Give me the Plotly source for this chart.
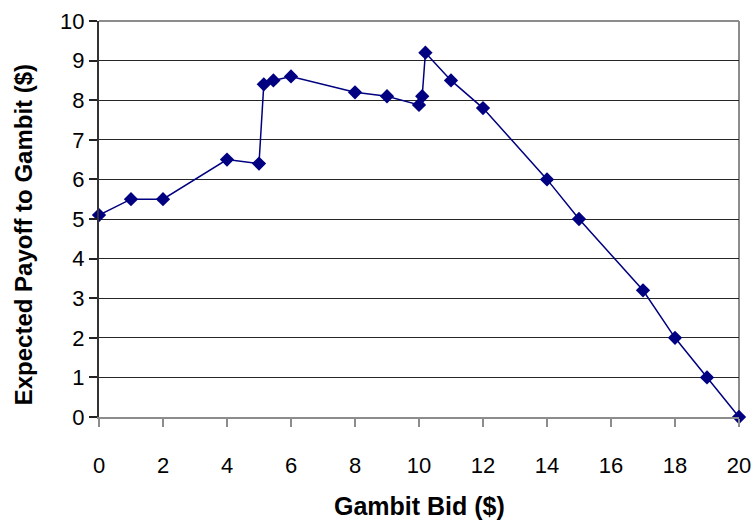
import plotly.graph_objects as go

# Gambit bid ($) and expected payoff to Gambit ($)
bids = [0, 1, 2, 4, 5, 5.15, 5.45, 6, 8, 9, 10, 10.1, 10.2, 11, 12, 14, 15, 17, 18, 19, 20]
payoffs = [5.1, 5.5, 5.5, 6.5, 6.4, 8.4, 8.5, 8.6, 8.2, 8.1, 7.88, 8.1, 9.2, 8.5, 7.8, 6.0, 5.0, 3.2, 2.0, 1.0, 0.0]

x_ticks = list(range(0, 21, 2))
y_ticks = list(range(0, 11))

x_title = "<b>Gambit Bid ($)</b>"
y_title = "<b>Expected Payoff to Gambit ($)</b>"

fig = go.Figure(
    go.Scatter(
        x=bids,
        y=payoffs,
        mode="lines+markers",
        line=dict(color="#000080", width=1.5),
        marker=dict(symbol="diamond", size=11, color="#000080"),
        cliponaxis=False,
    )
)

font_family = "Liberation Sans, Arial, sans-serif"

fig.update_layout(
    width=753,
    height=522,
    margin=dict(l=99, r=14, t=21, b=105),
    paper_bgcolor="white",
    plot_bgcolor="white",
    showlegend=False,
    font=dict(family=font_family, size=22, color="black"),
    # grey frame on the top and right of the plot area
    shapes=[
        dict(type="line", xref="paper", yref="paper", x0=0, x1=1, y0=1, y1=1,
             line=dict(color="#8c8c8c", width=2), layer="below"),
        dict(type="line", xref="paper", yref="paper", x0=1, x1=1, y0=0, y1=1,
             line=dict(color="#8c8c8c", width=2), layer="below"),
    ],
    annotations=[
        dict(text=x_title, xref="paper", yref="paper", x=0.5, y=-0.224,
             xanchor="center", yanchor="middle", showarrow=False,
             font=dict(size=25)),
        dict(text=y_title, xref="paper", yref="paper", x=-0.118, y=0.46,
             xanchor="center", yanchor="middle", showarrow=False, textangle=-90,
             font=dict(size=24)),
    ],
)

fig.update_xaxes(
    range=[0, 20],
    tickvals=x_ticks,
    ticks="outside",
    ticklen=8,
    tickwidth=2,
    tickcolor="#8c8c8c",
    ticklabelstandoff=20,
    showline=True,
    linecolor="#8c8c8c",
    linewidth=2,
    showgrid=False,
    zeroline=False,
    automargin=False,
    tickfont=dict(size=22),
)

fig.update_yaxes(
    range=[0, 10],
    tickvals=y_ticks,
    ticksuffix="\u00a0\u2009",
    ticks="outside",
    ticklen=8,
    tickwidth=1.5,
    tickcolor="#222222",
    showline=True,
    linecolor="#333333",
    linewidth=2,
    showgrid=True,
    gridcolor="#262626",
    gridwidth=1,
    zeroline=False,
    automargin=False,
    tickfont=dict(size=22),
)

fig.write_html("out.html")
